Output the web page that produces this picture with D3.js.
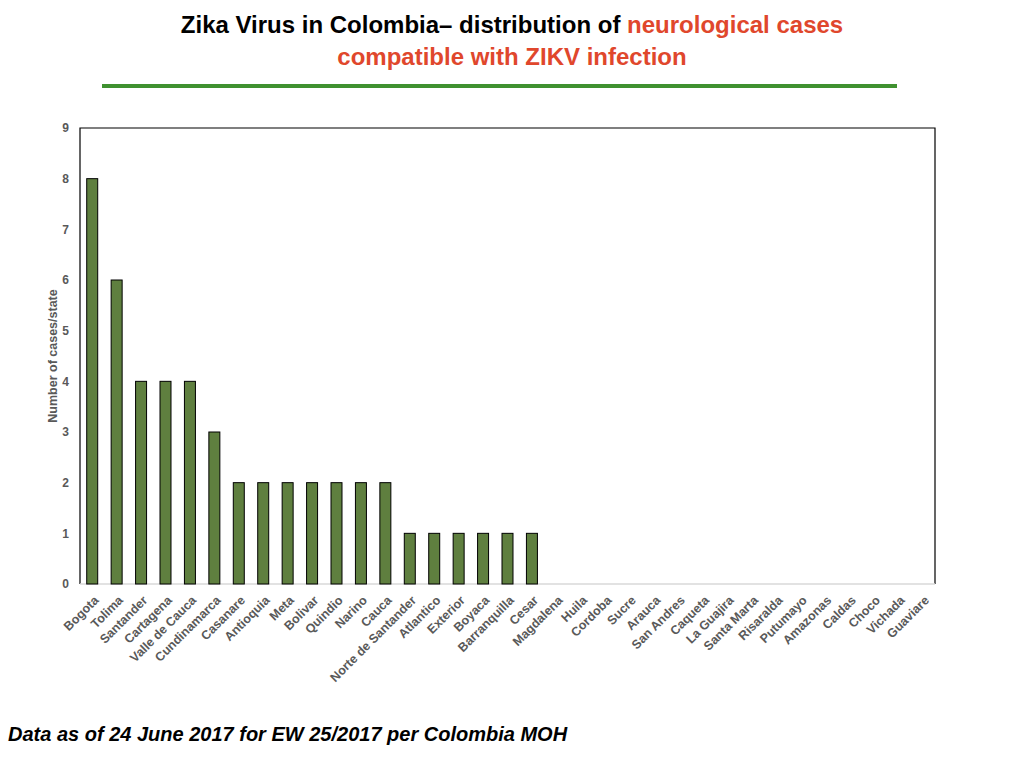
<!DOCTYPE html>
<html>
<head>
<meta charset="utf-8">
<script src="https://cdn.jsdelivr.net/npm/d3@7"></script>
<style>
  body { margin: 0; background: #fff; }
  svg { font-family: "Liberation Sans", Arial, sans-serif; }
</style>
</head>
<body>
<div id="chart"></div>
<script>
// states, in the order they appear on the x axis
const states = [
    'Bogota', 'Tolima', 'Santander', 'Cartagena', 'Valle de Cauca', 'Cundinamarca',
    'Casanare', 'Antioquia', 'Meta', 'Bolivar', 'Quindio', 'Narino', 'Cauca',
    'Norte de Santander', 'Atlantico', 'Exterior', 'Boyaca', 'Barranquilla', 'Cesar',
    'Magdalena', 'Huila', 'Cordoba', 'Sucre', 'Arauca', 'San Andres', 'Caqueta',
    'La Guajira', 'Santa Marta', 'Risaralda', 'Putumayo', 'Amazonas', 'Caldas',
    'Choco', 'Vichada', 'Guaviare'
];
// neurological cases per state
const cases = [
    8, 6, 4, 4, 4, 3,
    2, 2, 2, 2, 2, 2, 2,
    1, 1, 1, 1, 1, 1,
    0, 0, 0, 0, 0, 0, 0,
    0, 0, 0, 0, 0, 0,
    0, 0, 0
];
const yTicks = [0, 1, 2, 3, 4, 5, 6, 7, 8, 9];

const width = 1024, height = 768;
const plot = { left: 80, right: 935, top: 128, bottom: 584 };
const grey = '#595959';

const svg = d3.select('#chart')
    .append('svg')
    .attr('width', width)
    .attr('height', height);

// title
const title = svg.append('text')
    .attr('x', 512)
    .attr('y', 33)
    .attr('text-anchor', 'middle')
    .style('font-size', '24px')
    .style('font-weight', 'bold');
title.append('tspan').attr('fill', '#000').text('Zika Virus in Colombia\u2013  distribution of ');
title.append('tspan').attr('fill', '#e0472c').text('neurological cases');

svg.append('text')
    .attr('x', 512)
    .attr('y', 65)
    .attr('text-anchor', 'middle')
    .attr('fill', '#e0472c')
    .style('font-size', '24px')
    .style('font-weight', 'bold')
    .text('compatible with ZIKV infection');

svg.append('line')
    .attr('x1', 102).attr('x2', 897)
    .attr('y1', 86).attr('y2', 86)
    .attr('stroke', '#3f9130')
    .attr('stroke-width', 4);

// scales
const x = d3.scaleBand()
    .domain(states)
    .range([plot.left, plot.right])
    .paddingInner(0.55)
    .paddingOuter(0.275);

const y = d3.scaleLinear()
    .domain([0, 9])
    .range([plot.bottom, plot.top]);

// frame: black left/top/right, light grey baseline
const frame = svg.append('g');
frame.append('path')
    .attr('d', `M${plot.left},${plot.bottom}V${plot.top}H${plot.right}V${plot.bottom}`)
    .attr('fill', 'none')
    .attr('stroke', '#000')
    .attr('stroke-width', 1.2);

// bars
svg.append('g')
    .selectAll('rect')
    .data(states.map((s, i) => ({ state: s, value: cases[i] })).filter(d => d.value > 0))
    .enter()
    .append('rect')
    .attr('x', d => x(d.state))
    .attr('y', d => y(d.value))
    .attr('width', x.bandwidth())
    .attr('height', d => y(0) - y(d.value))
    .attr('fill', '#5f7f3f')
    .attr('stroke', '#000')
    .attr('stroke-width', 1);

frame.append('line')
    .attr('x1', plot.left).attr('x2', plot.right)
    .attr('y1', plot.bottom).attr('y2', plot.bottom)
    .attr('stroke', '#d9d9d9')
    .attr('stroke-width', 1.5);

// y axis labels
const yAxis = svg.append('g')
    .attr('transform', `translate(${plot.left},0)`)
    .call(d3.axisLeft(y).tickValues(yTicks).tickSize(0).tickPadding(11));
yAxis.select('.domain').remove();
yAxis.selectAll('text')
    .attr('fill', grey)
    .style('font-size', '12px')
    .style('font-weight', 'bold')
    .style('font-family', '"Liberation Sans", Arial, sans-serif');

// x axis labels
const xAxis = svg.append('g')
    .attr('transform', `translate(0,${plot.bottom})`)
    .call(d3.axisBottom(x).tickSize(0).tickPadding(0));
xAxis.select('.domain').remove();
xAxis.selectAll('text')
    .attr('fill', grey)
    .style('font-size', '12.5px')
    .style('font-weight', 'bold')
    .style('font-family', '"Liberation Sans", Arial, sans-serif')
    .attr('text-anchor', 'end')
    .attr('dy', '0.35em')
    .attr('transform', 'translate(4,14) rotate(-45)');

// y axis title
svg.append('text')
    .attr('transform', `translate(57,${(plot.top + plot.bottom) / 2}) rotate(-90)`)
    .attr('text-anchor', 'middle')
    .attr('fill', grey)
    .style('font-size', '12.5px')
    .style('font-weight', 'bold')
    .text('Number of cases/state');

// footnote
svg.append('text')
    .attr('x', 8)
    .attr('y', 741)
    .style('font-size', '20px')
    .style('font-weight', 'bold')
    .style('font-style', 'italic')
    .text('Data as of 24 June 2017 for EW 25/2017 per Colombia MOH');
</script>
</body>
</html>
